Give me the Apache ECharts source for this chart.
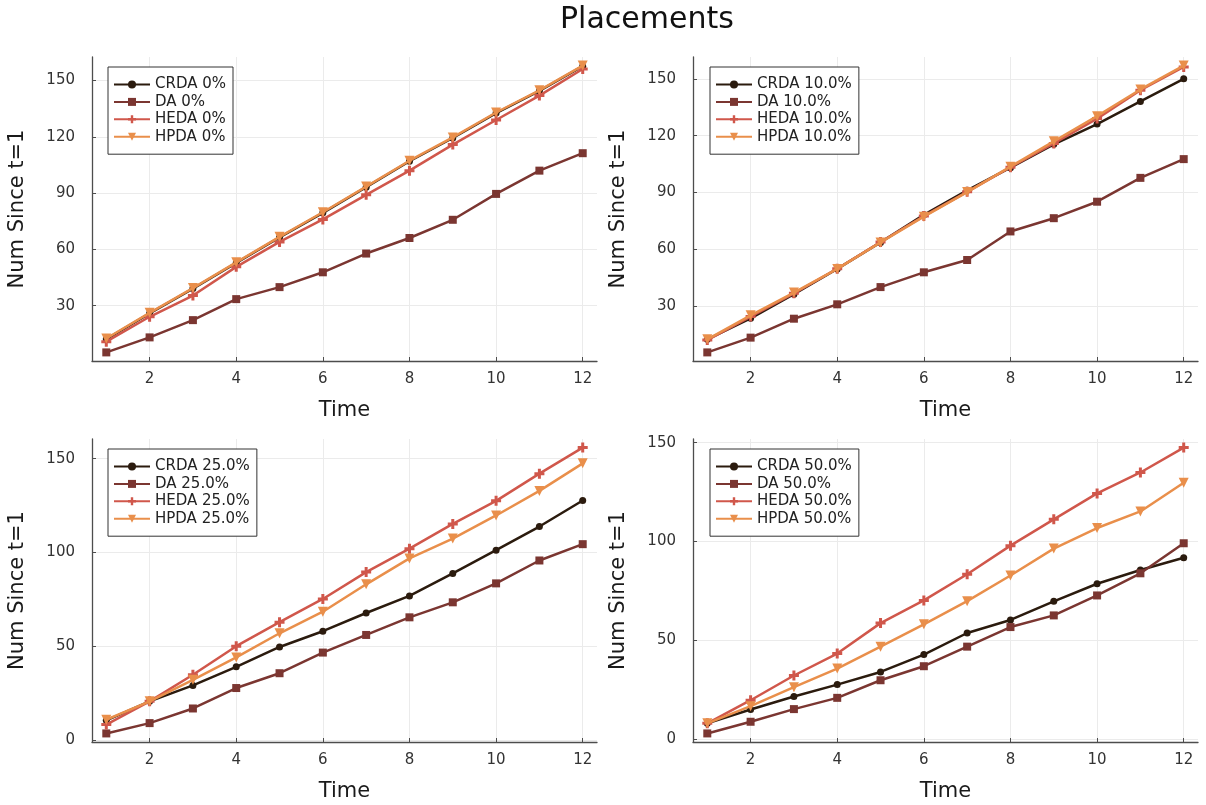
<!DOCTYPE html>
<html>
<head>
<meta charset="utf-8">
<script src="https://cdn.jsdelivr.net/npm/echarts@6/dist/echarts.min.js"></script>
<style>html,body{margin:0;padding:0;background:#fff}#c{width:1206px;height:805px}</style>
</head>
<body>
<div id="c"></div>
<script>
const times = [1, 2, 3, 4, 5, 6, 7, 8, 9, 10, 11, 12];
const xTicks = [2, 4, 6, 8, 10, 12];
const yTicksTop = [30, 60, 90, 120, 150];
const yTicksBottom = [0, 50, 100, 150];
const methods = ['CRDA', 'DA', 'HEDA', 'HPDA'];
const levels = ['0%', '10.0%', '25.0%', '50.0%'];

const crda0 = [12.2, 25.9, 39.1, 52.8, 66.4, 79.5, 93.2, 107, 119.4, 132.7, 144.5, 157.7];
const da0 = [5.1, 13.1, 22.3, 33.5, 39.9, 47.8, 57.8, 66.1, 75.8, 89.6, 102, 111.3];
const heda0 = [10.8, 24.1, 35.4, 50.7, 64, 76, 89.1, 102, 115.9, 129, 142, 156.2];
const hpda0 = [12.5, 26.2, 39.4, 53.1, 66.7, 79.8, 93.5, 107.3, 119.7, 133, 144.8, 158];

const crda10 = [12.4, 23.5, 36.2, 49.6, 63.6, 78.2, 91.1, 103.1, 115.4, 126.1, 138.1, 150];
const da10 = [5.5, 13.3, 23.3, 30.9, 40, 47.8, 54.3, 69.4, 76.4, 85.1, 97.7, 107.6];
const heda10 = [12, 24.4, 36.7, 49.7, 63.8, 77.5, 90.3, 103.3, 115.9, 129, 144, 156.3];
const hpda10 = [12.4, 25.1, 37.1, 49.6, 63.6, 77.2, 90.2, 103.6, 117, 130.3, 144.4, 157];

const crda25 = [10.5, 20.6, 29.1, 39, 49.6, 58, 67.7, 76.8, 88.8, 101.2, 113.8, 127.7];
const da25 = [3.5, 9, 16.8, 27.7, 35.6, 46.6, 56, 65.4, 73.4, 83.5, 95.7, 104.4];
const heda25 = [8.2, 20.6, 34.8, 50, 62.8, 75.2, 89.5, 102, 115.2, 127.5, 142, 155.9];
const hpda25 = [10.8, 20.6, 32.1, 44, 56.9, 68.4, 83, 96.8, 107.4, 119.7, 132.8, 147.5];

const crda50 = [8, 15, 21.6, 27.6, 34, 42.8, 53.7, 60.3, 69.7, 78.6, 85.6, 91.8];
const da50 = [2.9, 8.8, 15.2, 20.9, 29.8, 36.9, 46.8, 56.7, 62.6, 72.7, 83.9, 99.1];
const heda50 = [8, 19.7, 32.2, 43.3, 58.7, 70.2, 83.4, 97.9, 111.2, 124.3, 134.9, 147.5];
const hpda50 = [8, 16.7, 26.3, 35.7, 46.8, 58.1, 69.8, 82.8, 96.4, 106.8, 115.2, 129.7];

const panelData = [
  [crda0, da0, heda0, hpda0],
  [crda10, da10, heda10, hpda10],
  [crda25, da25, heda25, hpda25],
  [crda50, da50, heda50, hpda50]
];

const FONT = 'DejaVu Sans';
const colors = ['#2b1b0e', '#7b3631', '#d0574b', '#e98f4b'];
const symbols = [
  'circle',
  'rect',
  'path://M3.5,0H6.5V3.5H10V6.5H6.5V10H3.5V6.5H0V3.5H3.5Z',
  'path://M0,0L10,0L5,9Z'
];
const symbolSizes = [7, 8, 10, 10];

const grids = [
  {left: 92, top: 57, width: 505, height: 304},
  {left: 693, top: 57, width: 505, height: 304},
  {left: 92, top: 439, width: 505, height: 303},
  {left: 693, top: 439, width: 505, height: 303}
];
const legendPos = [
  {left: 108, top: 67},
  {left: 710, top: 67},
  {left: 108, top: 449},
  {left: 710, top: 449}
];

const xAxes = [], yAxes = [], series = [], legends = [];
const xr = times[times.length - 1] - times[0];

for (let p = 0; p < 4; p++) {
  const all = [].concat(...panelData[p]);
  const lo = Math.min(...all), hi = Math.max(...all);
  const pad = (hi - lo) * 0.03;
  xAxes.push({
    type: 'value', gridIndex: p,
    min: times[0] - xr * 0.03, max: times[times.length - 1] + xr * 0.03,
    name: 'Time', nameLocation: 'middle', nameGap: 39,
    nameTextStyle: {fontFamily: FONT, fontSize: 21, color: '#1a1a1a'},
    axisLine: {show: true, onZero: false, lineStyle: {color: '#4d4d4d', width: 1.3}},
    axisTick: {show: true, inside: true, length: 4, customValues: xTicks, lineStyle: {color: '#4d4d4d'}},
    axisLabel: {customValues: xTicks, fontFamily: FONT, fontSize: 15, color: '#333', margin: 11},
    splitLine: {show: true, lineStyle: {color: '#ebebeb', width: 1}}
  });
  const yt = p < 2 ? yTicksTop : yTicksBottom;
  yAxes.push({
    type: 'value', gridIndex: p,
    min: lo - pad, max: hi + pad,
    name: 'Num Since t=1', nameLocation: 'middle', nameGap: 64,
    nameTextStyle: {fontFamily: FONT, fontSize: 21, color: '#1a1a1a'},
    axisLine: {show: true, onZero: false, lineStyle: {color: '#4d4d4d', width: 1.3}},
    axisTick: {show: true, inside: true, length: 4, customValues: yt, lineStyle: {color: '#4d4d4d'}},
    axisLabel: {customValues: yt, fontFamily: FONT, fontSize: 15, color: '#333', margin: 17},
    splitLine: {show: true, lineStyle: {color: '#ebebeb', width: 1}}
  });
  const names = [];
  for (let s = 0; s < 4; s++) {
    const nm = methods[s] + ' ' + levels[p];
    names.push(nm);
    series.push({
      type: 'line', name: nm, xAxisIndex: p, yAxisIndex: p,
      data: times.map((t, i) => [t, panelData[p][s][i]]),
      symbol: symbols[s], symbolSize: symbolSizes[s], showSymbol: true,
      lineStyle: {color: colors[s], width: 2.5},
      itemStyle: {color: colors[s], borderWidth: 0},
      animation: false, z: 2 + s
    });
  }
  legends.push({
    data: names, orient: 'vertical',
    left: legendPos[p].left, top: legendPos[p].top,
    itemWidth: 36, itemHeight: 10, itemGap: 2.4,
    padding: [10, 7, 10, 5],
    borderColor: '#333', borderWidth: 1, backgroundColor: '#fff',
    textStyle: {fontFamily: FONT, fontSize: 15, color: '#222'},
    selectedMode: false
  });
}

const chart = echarts.init(document.getElementById('c'), null, {renderer: 'canvas'});
chart.setOption({
  backgroundColor: '#fff',
  animation: false,
  title: {text: 'Placements', left: 555, top: 0,
    textStyle: {fontFamily: FONT, fontSize: 30, fontWeight: 'normal', color: '#111'}},
  grid: grids,
  xAxis: xAxes,
  yAxis: yAxes,
  legend: legends,
  series: series
});
</script>
</body>
</html>
